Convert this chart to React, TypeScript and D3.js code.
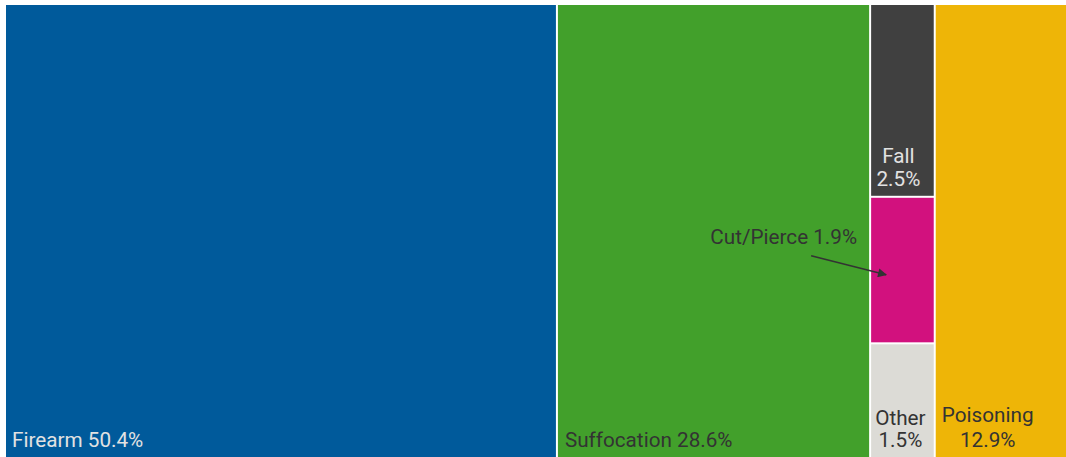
import React from "react";
import * as d3 from "d3";

const categories = ["Firearm", "Suffocation", "Fall", "Cut/Pierce", "Other", "Poisoning"];
const values = [50.4, 28.6, 2.5, 1.9, 1.5, 12.9];
const groups = ["Firearm", "Suffocation", "Small", "Small", "Small", "Poisoning"];
const colors = ["#005a9b", "#42a02b", "#404040", "#d2117e", "#dcdbd6", "#eeb507"];
const textColors = ["#e2e2e2", "#333333", "#e2e2e2", "#333333", "#333333", "#333333"];

const W = 1066;
const H = 457;

export default function App() {
  const groupOrder = ["Firearm", "Suffocation", "Small", "Poisoning"];
  const data = {
    name: "root",
    children: groupOrder.map((g) => {
      const idx = categories.map((_, i) => i).filter((i) => groups[i] === g);
      if (idx.length === 1) return { name: categories[idx[0]], i: idx[0], value: values[idx[0]] };
      return { name: g, children: idx.map((i) => ({ name: categories[i], i, value: values[i] })) };
    }),
  };
  const root = d3
    .hierarchy<any>(data)
    .sum((d: any) => (d.children ? 0 : d.value));
  d3.treemap<any>().size([1069, 453]).paddingInner(2).tile(d3.treemapSliceDice)(root);
  const leaves = root.leaves() as any[];
  const byName: Record<string, any> = {};
  leaves.forEach((l) => (byName[l.data.name] = l));

  const fs = 20.7;
  const font = "Roboto, 'Noto Sans', sans-serif";
  const fa = byName["Firearm"];
  const su = byName["Suffocation"];
  const fl = byName["Fall"];
  const cp = byName["Cut/Pierce"];
  const ot = byName["Other"];
  const po = byName["Poisoning"];
  const tc = (n: any) => textColors[n.data.i];
  const flx = (fl.x0 + fl.x1) / 2 - 4;
  const otx = (ot.x0 + ot.x1) / 2 - 2;
  const pox = po.x0 + 52;

  return (
    <svg width={W} height={H} style={{ position: "absolute", left: 0, top: 0, background: "#fff" }} fontFamily={font} fontSize={fs}>
      <defs>
        <marker id="arr" viewBox="0 0 10 10" refX="9" refY="5" markerWidth="7" markerHeight="6" orient="auto">
          <path d="M0,0 L10,5 L0,10 z" fill="#333" />
        </marker>
      </defs>
      <g transform="translate(6,5)">
        {leaves.map((l) => (
          <rect key={l.data.name} x={l.x0} y={l.y0} width={l.x1 - l.x0} height={l.y1 - l.y0} fill={colors[l.data.i]} />
        ))}
        <text x={fa.x0 + 6} y={fa.y1 - 11} fill={tc(fa)}>{`${fa.data.name} ${fa.data.value}%`}</text>
        <text x={su.x0 + 7} y={su.y1 - 11} fill={tc(su)}>{`${su.data.name} ${su.data.value}%`}</text>
        <text y={fl.y1 - 33} fill={tc(fl)} textAnchor="middle">
          <tspan x={flx}>{fl.data.name}</tspan>
          <tspan x={flx} dy={23}>{`${fl.data.value}%`}</tspan>
        </text>
        <text y={ot.y1 - 33} fill={tc(ot)} textAnchor="middle">
          <tspan x={otx}>{ot.data.name}</tspan>
          <tspan x={otx} dy={22}>{`${ot.data.value}%`}</tspan>
        </text>
        <text y={po.y1 - 36} fill={tc(po)} textAnchor="middle">
          <tspan x={pox}>{po.data.name}</tspan>
          <tspan x={pox} dy={25}>{`${po.data.value}%`}</tspan>
        </text>
        <text x={cp.x0 - 14} y={cp.y0 + 46} fill={tc(cp)} textAnchor="end">{`${cp.data.name} ${cp.data.value}%`}</text>
        <line x1={cp.x0 - 60} y1={cp.y0 + 58} x2={cp.x0 + 15} y2={cp.y0 + 77} stroke="#333" strokeWidth={1.5} markerEnd="url(#arr)" />
      </g>
    </svg>
  );
}
